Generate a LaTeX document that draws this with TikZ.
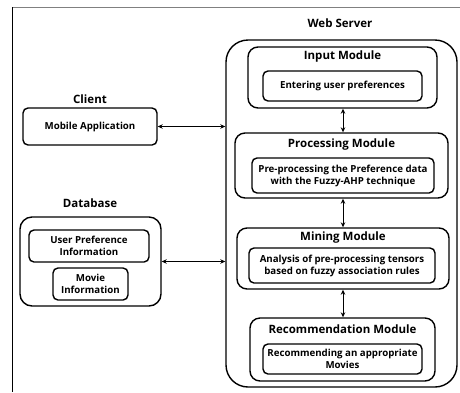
\documentclass[tikz,border=0pt]{standalone}
\usepackage{fontspec}
\setmainfont{Open Sans}
\usepackage{tikz}
\usetikzlibrary{arrows.meta}
\definecolor{framegray}{HTML}{808080}

\begin{document}
\begin{tikzpicture}[
  x=1pt, y=-1pt,
  txt/.style={font=\fontsize{9.7}{12}\selectfont\bfseries, align=center, inner sep=0pt},
  ttl/.style={font=\fontsize{11.5}{13}\selectfont\bfseries, inner sep=0pt},
  box/.style={draw, line width=1.4pt, rounded corners=#1, inner sep=0pt},
  inbox/.style={box=5pt, txt, minimum width=#1},
  arr/.style={{Stealth[length=5pt,width=4.5pt]}-{Stealth[length=5pt,width=4.5pt]}, line width=0.9pt}
]
\useasboundingbox (0,0) rectangle (460,392);

% outer frame (cut at right and bottom)
\draw[framegray, line width=1pt] (12,7) -- (460,7);
\draw[line width=1pt] (12,7) -- (12,392);

% Web server
\node[ttl] (web_lbl) at (340,23) {Web Server};
\node[box=22pt, minimum width=231pt, minimum height=347pt] (web) at (341.5,213.5) {};

\node[box=10pt, minimum width=189pt, minimum height=61pt] (inp) at (342.5,77.5) {};
\node[ttl] (inp_lbl) at (342.5,57) {Input Module};
\node[inbox=159pt, minimum height=30pt] (inp_in) at (342.5,86) {Entering user preferences};

\node[box=10pt, minimum width=213pt, minimum height=65pt] (proc) at (341.5,165.5) {};
\node[ttl] (proc_lbl) at (341.5,145) {Processing Module};
\node[inbox=182pt, minimum height=35pt] (proc_in) at (343,175.5) {Pre-processing the Preference data\\with the Fuzzy-AHP technique};

\node[box=10pt, minimum width=212pt, minimum height=61pt] (mine) at (343,258.5) {};
\node[ttl] (mine_lbl) at (343,238) {Mining Module};
\node[inbox=186pt, minimum height=35pt] (mine_in) at (342,265.5) {Analysis of pre-processing tensors\\based on fuzzy association rules};

\node[box=10pt, minimum width=185pt, minimum height=63pt] (rec) at (342.5,349.5) {};
\node[ttl] (rec_lbl) at (342.5,329) {Recommendation Module};
\node[inbox=159pt, minimum height=30pt] (rec_in) at (342.5,359) {Recommending an appropriate\\Movies};

\draw[arr] (inp.south -| 343,0) -- (proc.north -| 343,0);
\draw[arr] (proc.south -| 343,0) -- (mine.north -| 343,0);
\draw[arr] (mine.south -| 343,0) -- (rec.north -| 343,0);

% Client
\node[ttl] (cli_lbl) at (90,99) {Client};
\node[inbox=134pt, minimum height=37pt] (mob) at (90,126.5) {Mobile Application};

% Database
\node[ttl] (db_lbl) at (90,203) {Database};
\node[box=12pt, minimum width=141pt, minimum height=89pt] (db) at (90.5,261.5) {};
\node[inbox=120pt, minimum height=32pt] (upi) at (89,246) {User Preference\\Information};
\node[inbox=75pt, minimum height=32pt] (mov) at (90.5,284) {Movie\\Information};

\draw[arr] (mob.east) -- (web.west |- mob);
\draw[arr] (db.east) -- (web.west |- db);

\end{tikzpicture}
\end{document}
